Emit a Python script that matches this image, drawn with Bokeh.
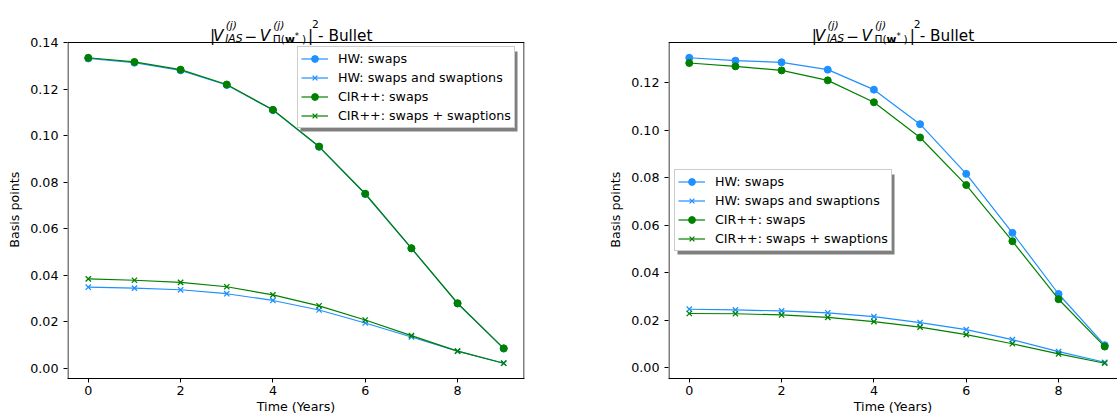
from bokeh.plotting import figure
from bokeh.layouts import row
from bokeh.models import (Range1d, FixedTicker, NumeralTickFormatter, Legend,
                          LegendItem, BoxAnnotation)
from bokeh.core.properties import value
from bokeh.embed import file_html
from bokeh.resources import INLINE

# ---------------- data ----------------
years = [0, 1, 2, 3, 4, 5, 6, 7, 8, 9]

left_hw_swaps = [0.1332, 0.1314, 0.1281, 0.1218, 0.1110, 0.0952, 0.0749, 0.0515, 0.0278, 0.0084]
left_hw_swaptions = [0.0348, 0.0344, 0.0337, 0.0320, 0.0291, 0.0250, 0.0194, 0.0134, 0.0073, 0.0021]
left_cir_swaps = [0.1335, 0.1317, 0.1284, 0.1220, 0.1111, 0.0953, 0.0750, 0.0516, 0.0279, 0.0085]
left_cir_swaptions = [0.0384, 0.0378, 0.0369, 0.0350, 0.0315, 0.0268, 0.0207, 0.0140, 0.0073, 0.0021]

right_hw_swaps = [0.1304, 0.1292, 0.1285, 0.1254, 0.1170, 0.1025, 0.0816, 0.0568, 0.0311, 0.0096]
right_hw_swaptions = [0.0247, 0.0244, 0.0240, 0.0232, 0.0216, 0.0191, 0.0161, 0.0119, 0.0069, 0.0024]
right_cir_swaps = [0.1282, 0.1268, 0.1251, 0.1209, 0.1117, 0.0969, 0.0769, 0.0533, 0.0289, 0.0090]
right_cir_swaptions = [0.0229, 0.0228, 0.0223, 0.0213, 0.0195, 0.0172, 0.0140, 0.0102, 0.0059, 0.0020]

series_labels = ["HW: swaps", "HW: swaps and swaptions", "CIR++: swaps", "CIR++: swaps + swaptions"]
series_colors = ["#1e90ff", "#1e90ff", "#008000", "#008000"]
series_markers = ["circle", "x", "circle", "x"]

x_ticks = [0, 2, 4, 6, 8]
y_ticks = [0.00, 0.02, 0.04, 0.06, 0.08, 0.10, 0.12, 0.14]
x_label = "Time (Years)"
y_label = "Basis points"

FONT = "DejaVu Sans"
FS = "12.7px"
H = 416
TOP = 42          # space above the axes box, used by the title
BOTTOM = 38
BOX_H = H - TOP - BOTTOM

# title pieces: (text, x offset from title centre, baseline y from page top, size, style)
title_parts = [
    ("|", -85.5, 35, 15.3, "normal"),
    ("V", -82.5, 35, 15.3, "italic"),
    ("(j)", -69.8, 25.3, 10.7, "italic"),
    ("IAS", -70.3, 37.6, 10.7, "italic"),
    ("\u2212", -51.0, 35, 15.3, "normal"),
    ("V", -35.8, 35, 15.3, "italic"),
    ("(j)", -22.3, 25.3, 10.7, "italic"),
    ("\u03a0(", -22.8, 39.2, 10.7, "normal"),
    ("w", -10.6, 39.2, 10.7, "bold"),
    ("*", -0.8, 35.2, 8.5, "normal"),
    (")", 6.4, 39.2, 10.7, "normal"),
    ("|", 12.6, 35, 15.3, "normal"),
    ("2", 16.6, 23.5, 10.7, "normal"),
    (" - Bullet", 22.5, 35, 15.3, "normal"),
]


def y_limits(series):
    lo = min(min(s) for s in series)
    hi = max(max(s) for s in series)
    m = 0.05 * (hi - lo)
    return lo - m, hi + m


def make_panel(series, x0_page, width, border_left, border_right, x_end,
               legend_xy, title_center, full_box):
    x_start = -0.45
    y0, y1 = y_limits(series)
    ppy = BOX_H / (y1 - y0)
    y_top = y1 + TOP / ppy
    frame_w = width - border_left - border_right
    ppx = frame_w / (x_end - x_start)
    frame_left_page = x0_page + border_left

    p = figure(width=width, height=H, output_backend="svg", toolbar_location=None,
               x_range=Range1d(x_start, x_end), y_range=Range1d(y0, y_top),
               min_border_left=border_left, min_border_right=border_right,
               min_border_top=0, min_border_bottom=BOTTOM)
    p.background_fill_color = "white"
    p.border_fill_color = "white"
    p.xgrid.visible = False
    p.ygrid.visible = False
    p.outline_line_color = None

    for ax in (p.xaxis[0], p.yaxis[0]):
        ax.axis_line_color = "black"
        ax.axis_line_width = 1
        ax.major_tick_line_color = "black"
        ax.major_tick_line_width = 1
        ax.major_tick_out = 4
        ax.major_tick_in = 0
        ax.minor_tick_line_color = None
        ax.major_label_text_font = FONT
        ax.major_label_text_font_size = FS
        ax.major_label_text_color = "black"
        ax.axis_label_text_font = FONT
        ax.axis_label_text_font_size = FS
        ax.axis_label_text_font_style = "normal"
        ax.axis_label_text_color = "black"
    p.yaxis.axis_line_color = None
    p.xaxis.ticker = FixedTicker(ticks=x_ticks)
    p.yaxis.ticker = FixedTicker(ticks=[t for t in y_ticks if t <= y1 + 1e-9])
    p.yaxis.formatter = NumeralTickFormatter(format="0.00")
    p.xaxis.axis_label = x_label
    # trailing no-break spaces keep the label centred on the axes box, not the frame
    p.yaxis.axis_label = y_label + "\u00a0" * 10
    p.xaxis.major_label_standoff = 3
    p.yaxis.major_label_standoff = 5
    p.xaxis.axis_label_standoff = 1
    p.yaxis.axis_label_standoff = 5

    # axes box spines (left, top, and right when the box is complete)
    xl = x_start + 0.5 / ppx
    sx0, sy0, sx1, sy1 = [xl, x_start], [y0, y1], [xl, x_end], [y1, y1]
    if full_box:
        xr = x_end - 0.5 / ppx
        sx0.append(xr); sy0.append(y0); sx1.append(xr); sy1.append(y1)
    p.segment(x0=sx0, y0=sy0, x1=sx1, y1=sy1, line_color="black", line_width=1)

    items = []
    for ys, lab, col, mk in zip(series, series_labels, series_colors, series_markers):
        r1 = p.line(years, ys, line_color=col, line_width=1.2)
        if mk == "circle":
            r2 = p.scatter(years, ys, marker="circle", size=7, fill_color=col,
                           line_color=col, line_width=1)
        else:
            r2 = p.scatter(years, ys, marker="x", size=7.5, line_color=col, line_width=1.3)
        items.append(LegendItem(label=lab, renderers=[r1, r2]))

    # legend shadow (data units derived from screen offsets)
    lw, lh = 217, 80
    vx, vy = legend_xy
    sh = BoxAnnotation(left=x_start + (vx + 3) / ppx, right=x_start + (vx + lw + 3) / ppx,
                       bottom=y0 + (vy - 3) / ppy, top=y0 + (vy + lh - 3) / ppy,
                       fill_color="#7f7f7f", fill_alpha=1, line_color=None)
    p.add_layout(sh)

    legend = Legend(items=items, location=legend_xy, orientation="vertical",
                    label_text_font=FONT, label_text_font_size=FS,
                    label_text_color="black",
                    label_height=17, glyph_height=17, glyph_width=27,
                    label_standoff=10, padding=3, spacing=2, margin=0,
                    border_line_color="#cccccc", border_line_width=1,
                    border_line_alpha=1,
                    background_fill_color="white", background_fill_alpha=1)
    p.add_layout(legend)

    # title, drawn in the space above the axes box
    for txt, dx, base, size, style in title_parts:
        tx = x_start + (title_center + dx - frame_left_page) / ppx
        ty = y1 + (TOP - base) / ppy
        p.text(x=[tx], y=[ty], text=[txt],
               text_font=value(FONT), text_font_size=value(f"{size}px"),
               text_font_style=style, text_color="black",
               text_align="left", text_baseline="alphabetic")
    return p


left_series = [left_hw_swaps, left_hw_swaptions, left_cir_swaps, left_cir_swaptions]
right_series = [right_hw_swaps, right_hw_swaptions, right_cir_swaps, right_cir_swaptions]

W1, BL1, BR1 = 590, 67, 66
px_per_year = (W1 - BL1 - BR1) / 9.9
W2, BL2, BR2 = 1117 - W1, 78, 0
x_end2 = -0.45 + (W2 - BL2 - BR2) / px_per_year

# legend positions: (left offset, bottom offset) inside the axes box, in pixels
leg1 = (230, BOX_H - 6 - 80)
leg2 = (6, BOX_H - 129 - 80)

p1 = make_panel(left_series, 0, W1, BL1, BR1, 9.45, leg1, 295, True)
p2 = make_panel(right_series, W1, W2, BL2, BR2, x_end2, leg2, 896.7, False)

layout = row(p1, p2)
open("out.html", "w").write(file_html(layout, INLINE))
